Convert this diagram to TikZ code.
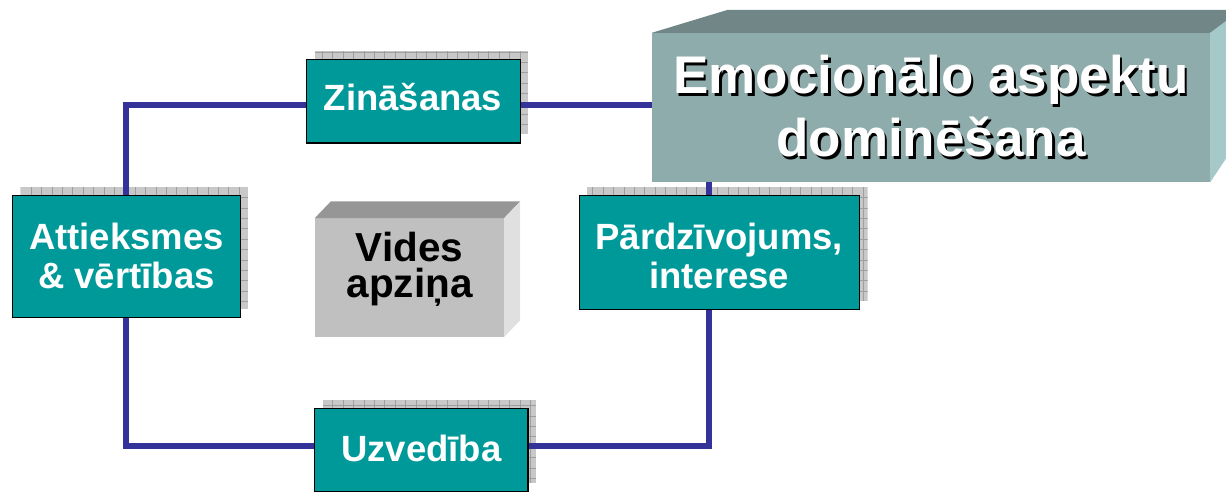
\documentclass[tikz,border=0pt]{standalone}
\usepackage{fontspec}
\setmainfont{Liberation Sans}
\usetikzlibrary{calc}
\definecolor{tealbox}{RGB}{0,153,153}
\definecolor{linec}{RGB}{51,51,153}
\definecolor{shfill}{RGB}{200,200,200}
\definecolor{shgrid}{RGB}{158,158,158}
\definecolor{tfront}{RGB}{143,172,173}
\definecolor{ttop}{RGB}{113,134,135}
\definecolor{tright}{RGB}{165,200,201}
\definecolor{vfront}{RGB}{192,192,192}
\definecolor{vtop}{RGB}{150,150,150}
\definecolor{vright}{RGB}{224,224,224}
\tikzset{
  box/.style={draw=black, line width=1.2pt, fill=tealbox, inner sep=0pt},
  boxtext/.style={text=white, font=\bfseries\fontsize{36.5}{39.5}\selectfont, align=center, inner sep=0pt},
  conn/.style={draw=linec, line width=6pt, line join=miter},
  titletext/.style={font=\bfseries\fontsize{53}{63}\selectfont, align=center, inner sep=0pt},
}
\newcommand\chkshadow[1]{%
  \begin{scope}
    \clip ($(#1.south west)+(8,-8.5)$) rectangle ($(#1.north east)+(8,-8.5)$);
    \fill[shfill] ($(#1.south west)+(8,-8.5)$) rectangle ($(#1.north east)+(8,-8.5)$);
    \draw[shgrid, line width=0.7pt, step=10.4pt] ($(#1.south west)+(8,-8.5)$) grid ($(#1.north east)+(8,-8.5)$);
  \end{scope}}
\newcommand\shadowtxt[1]{\leavevmode\rlap{\hspace{2.5pt}\raisebox{-2.5pt}{\color{black}#1}}#1}
\begin{document}
\begin{tikzpicture}[x=1pt,y=-1pt]
\useasboundingbox (0,0) rectangle (1226,491);
\clip (0,0) rectangle (1226,491);
% box shapes
\node[inner sep=0pt, minimum width=213pt, minimum height=82.7pt] (zin) at (413.5,101.35) {};
\node[inner sep=0pt, minimum width=227.3pt, minimum height=121pt] (att) at (126.35,256.5) {};
\node[inner sep=0pt, minimum width=280pt, minimum height=113.3pt] (par) at (719.3,252.65) {};
\node[inner sep=0pt, minimum width=212.7pt, minimum height=83pt] (uzv) at (421.35,449.8) {};
% shadows
\chkshadow{zin}
\chkshadow{att}
\chkshadow{par}
\chkshadow{uzv}
% connector guide coordinates
\coordinate (lx) at (126,0);
\coordinate (rx) at (708.5,0);
\coordinate (ty) at (0,105.3);
\coordinate (by) at (0,446);
% title front face
\node[inner sep=0pt, minimum width=558pt, minimum height=149pt] (title) at (931,107.5) {};
% connectors
\draw[conn] (zin.west |- ty) -| (lx |- att.north);
\draw[conn] (lx |- att.south) |- (uzv.west |- by);
\draw[conn] (uzv.east |- by) -| (rx |- par.south);
\draw[conn] (rx |- par.north) -- (rx |- title.south);
\draw[conn] (zin.east |- ty) -- (title.west |- ty);
% boxes
\draw[box] (zin.south west) rectangle (zin.north east);
\draw[box] (att.south west) rectangle (att.north east);
\draw[box] (par.south west) rectangle (par.north east);
\draw[box] (uzv.south west) rectangle (uzv.north east);
% Vides 3D box
\node[inner sep=0pt, minimum width=189pt, minimum height=118.4pt, fill=vfront] (vid) at (409.5,277.5) {};
\fill[vtop] (vid.north west) -- ++(16,-16.7) -- ($(vid.north east)+(16,-16.7)$) -- (vid.north east) -- cycle;
\fill[vright] (vid.north east) -- ++(16,-16.7) -- ($(vid.south east)+(16,-16.7)$) -- (vid.south east) -- cycle;
% title 3D box
\fill[tfront] (title.south west) rectangle (title.north east);
\fill[ttop] (title.north west) -- ($(title.north west)+(76,-23)$) -- ($(title.north east)+(76,-23)$) -- (title.north east) -- cycle;
\fill[tright] (title.north east) -- ($(title.north east)+(20,-15)$) -- ($(title.south east)+(20,-30)$) -- (title.south east) -- cycle;
% texts
\node[boxtext] (zint) at (413,97.5) {Zināšanas};
\node[boxtext] (attt) at (126.4,255.8) {Attieksmes\\\& vērtības};
\node[boxtext] (part) at (719.3,256) {Pārdzīvojums,\\interese};
\node[boxtext] (uzvt) at (421.3,448.3) {Uzvedība};
\node[font=\bfseries\fontsize{40.5}{36.5}\selectfont, align=center, inner sep=0pt] (vidt) at (409.5,269.2) {Vides\\apziņa};
\node[titletext, text=white] (titlet) at (931,107.5) {\shadowtxt{Emocionālo aspektu}\\\shadowtxt{dominēšana}};
\end{tikzpicture}
\end{document}
